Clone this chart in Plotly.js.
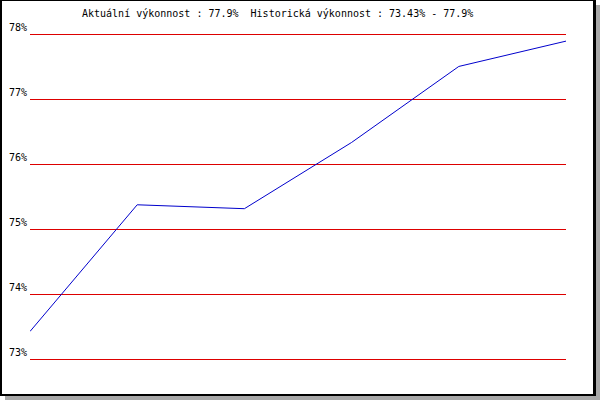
<!DOCTYPE html>
<html>
<head>
<meta charset="utf-8">
<script src="https://cdn.plot.ly/plotly-3.0.1.min.js"></script>
<style>
  html, body { margin: 0; padding: 0; background: #ffffff; }
  #wrap { position: relative; width: 600px; height: 400px; }
  #chart { position: absolute; left: 0; top: 0; width: 600px; height: 400px; }
  #frame {
    position: absolute; left: 0; top: 0; width: 596px; height: 396px;
    box-sizing: border-box; border-style: solid; border-color: #000;
    border-width: 1px 3px 2px 2px;
    box-shadow: 5px 5px 0 #a8a8a8; pointer-events: none;
  }
</style>
</head>
<body>
<div id="wrap">
  <div id="chart"></div>
  <div id="frame"></div>
</div>
<script>
const points = [1, 2, 3, 4, 5, 6];
const performance = [73.43, 75.38, 75.32, 76.34, 77.51, 77.9];
const tickValues = [73, 74, 75, 76, 77, 78];
const tickLabels = ["73%", "74%", "75%", "76%", "77%", "78%"];
const titleText = "Aktuální výkonnost : 77.9%  Historická výkonnost : 73.43% - 77.9%";

const mono = "DejaVu Sans Mono, monospace";
const pad = 0.025;

const trace = {
  x: points,
  y: performance,
  type: "scatter",
  mode: "lines",
  line: { color: "#0000cc", width: 1 },
  hoverinfo: "skip"
};

const layout = {
  width: 600,
  height: 400,
  paper_bgcolor: "#ffffff",
  plot_bgcolor: "#ffffff",
  showlegend: false,
  margin: { l: 30, r: 34, t: 33.4, b: 38.9, pad: 0 },
  title: {
    text: titleText,
    font: { family: mono, size: 10, color: "#000" },
    xref: "container", x: 82 / 600, xanchor: "left",
    yref: "container", y: 1 - 13 / 400, yanchor: "middle"
  },
  xaxis: {
    range: [points[0], points[points.length - 1]],
    visible: false,
    showgrid: false,
    zeroline: false
  },
  yaxis: {
    range: [tickValues[0] - pad, tickValues[tickValues.length - 1] + pad],
    tickmode: "array",
    tickvals: tickValues,
    ticktext: tickLabels,
    ticks: "",
    showline: false,
    zeroline: false,
    showgrid: true,
    gridcolor: "#dd0000",
    gridwidth: 1,
    ticklabelshift: -7,
    ticklabelstandoff: 2,
    tickfont: { family: mono, size: 10, color: "#000" }
  }
};

Plotly.newPlot("chart", [trace], layout, { staticPlot: true, displayModeBar: false });
</script>
</body>
</html>
